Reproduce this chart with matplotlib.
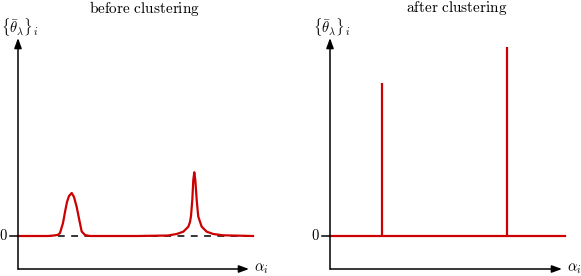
import matplotlib
matplotlib.use('Agg')
import matplotlib.pyplot as plt

plt.rcParams['mathtext.fontset'] = 'cm'
plt.rcParams['font.family'] = ['DejaVu Serif']

RED = '#cc0000'

# before clustering: smeared estimate (x in axis units, y in axis units)
before_x = [0.00, 0.30, 0.36, 0.40, 0.42, 0.45, 0.47, 0.49, 0.51, 0.537, 0.56, 0.587, 0.613, 0.637,
            0.67, 0.72, 1.20, 1.50, 1.587, 1.653, 1.703, 1.72, 1.73, 1.743, 1.753, 1.763, 1.773,
            1.787, 1.797, 1.803, 1.837, 1.887, 1.953, 2.05, 2.35]
before_y = [0.00, 0.00, 0.005, 0.012, 0.03, 0.13, 0.24, 0.34, 0.40, 0.43, 0.39, 0.29, 0.16, 0.045,
            0.01, 0.0, 0.0, 0.005, 0.02, 0.043, 0.093, 0.14, 0.20, 0.36, 0.56, 0.637, 0.56,
            0.36, 0.25, 0.193, 0.093, 0.043, 0.02, 0.007, 0.0]

# after clustering: two delta spikes
spike_x = [0.515, 1.765]
spike_h = [1.53, 1.89]
base_end = 2.35

titles = ['before clustering', 'after clustering']

fig = plt.figure(figsize=(5.81, 2.76), dpi=100)
ax1 = fig.add_axes([18/581, 7/276, 231/581, 231/276])
ax2 = fig.add_axes([330/581, 7/276, 232/581, 231/276])

for ax, xmax, title in [(ax1, 2.31, titles[0]), (ax2, 2.32, titles[1])]:
    ax.set_xlim(0, xmax)
    ax.set_ylim(-0.33, 1.98)
    ax.axis('off')
    arr = dict(arrowstyle='-|>,head_length=0.6,head_width=0.22', lw=1.1, color='black',
               shrinkA=0, shrinkB=0, mutation_scale=10)
    ax.annotate('', xy=(xmax, -0.33), xytext=(0, -0.33), arrowprops=arr, annotation_clip=False)
    ax.annotate('', xy=(0, 1.98), xytext=(0, -0.33), arrowprops=arr, annotation_clip=False)
    ax.plot([-0.08, 0], [0, 0], color='black', lw=1.1, clip_on=False)
    ax.text(-0.10, 0, r'$0$', ha='right', va='center', fontsize=10.5)
    ax.text(xmax + 0.05, -0.33, r'$\alpha_i$', ha='left', va='center', fontsize=10.5)
    ax.text(0.02, 2.09, r'$\{\bar{\theta}_\lambda\}_i$', ha='center', va='center', fontsize=10.5)
    ax.text(1.27, 2.37, r'$\mathrm{' + title.replace(' ', r'\ ') + '}$', ha='center', va='top',
            fontsize=11)

# left: dashed zero line and smooth estimate
ax1.plot([0, 2.31], [0, 0], color='black', lw=1.1, dashes=(4.5, 4.2), clip_on=False)
ax1.plot(before_x, before_y, color=RED, lw=1.6, clip_on=False, solid_joinstyle='round')

# right: baseline and spikes
ax2.plot([0, base_end], [0, 0], color=RED, lw=1.6, clip_on=False)
ax2.vlines(spike_x, 0, spike_h, color=RED, lw=1.6)

plt.savefig('out.png', dpi=100)
